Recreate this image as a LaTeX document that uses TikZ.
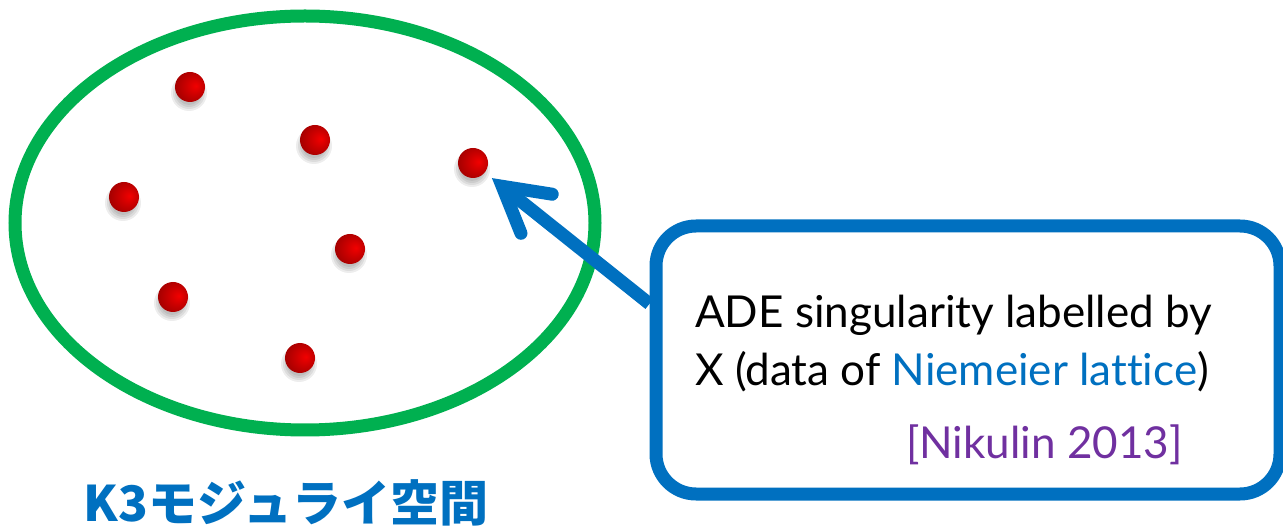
\documentclass[tikz,border=0pt]{standalone}
\usepackage{fontspec}
\setmainfont{Lato}[Ligatures={NoCommon}]
\newfontfamily\cjk{Noto Sans CJK JP}
\usetikzlibrary{arrows.meta}
\definecolor{kgreen}{HTML}{00B050}
\definecolor{kblue}{HTML}{0070C0}
\definecolor{kpurple}{HTML}{7030A0}
\pgfdeclareradialshading{dotshade}{\pgfpoint{10bp}{2bp}}{color(0bp)=(red!95!black); color(14bp)=(red!80!black); color(32bp)=(red!62!black); color(50bp)=(red!45!black)}
\newcommand\kdot[2]{%
  \foreach \r in {18,16,14,12}{\fill[black, opacity=0.07] ([shift={(-1,6)}]#2) circle (\r);}
  \node[dotnode] (#1) at (#2) {};}
\begin{document}
\begin{tikzpicture}[x=1pt,y=-1pt,
  dotnode/.style={circle, minimum size=30pt, inner sep=0pt, shading=dotshade},
  txt/.style={anchor=base west, inner sep=0pt, font=\fontsize{44}{52}\selectfont}]
\useasboundingbox (0,0) rectangle (1283,526);
\draw[kgreen, line width=13pt] (305,223) ellipse [x radius=290, y radius=207];
\kdot{d1}{190,87}
\kdot{d2}{315,140}
\kdot{d3}{473,163}
\kdot{d4}{124,197}
\kdot{d5}{350,249}
\kdot{d6}{173,297}
\kdot{d7}{300,358}
\node[draw=kblue, line width=13pt, rounded corners=40pt, minimum width=624pt, minimum height=268pt, inner sep=0pt, fill=white] (box) at (968,360) {};
\draw[kblue, line width=13pt, shorten >=9pt, -{Straight Barb[length=44pt, width=50pt, line cap=round, line join=miter]}] (box.170) -- (d3);
\node[txt] (t1) at (695,328) {ADE singularity labelled by};
\node[txt] (t2) at (695,386) {X (data of \textcolor{kblue}{Niemeier lattice})};
\node[txt, text=kpurple] (t3) at (906,459) {[Nikulin 2013]};
\node[anchor=base, inner sep=0pt, text=kblue, font=\cjk\bfseries\fontsize{49}{55}\selectfont] (title) at (286,521) {K3モジュライ空間};
\end{tikzpicture}
\end{document}
